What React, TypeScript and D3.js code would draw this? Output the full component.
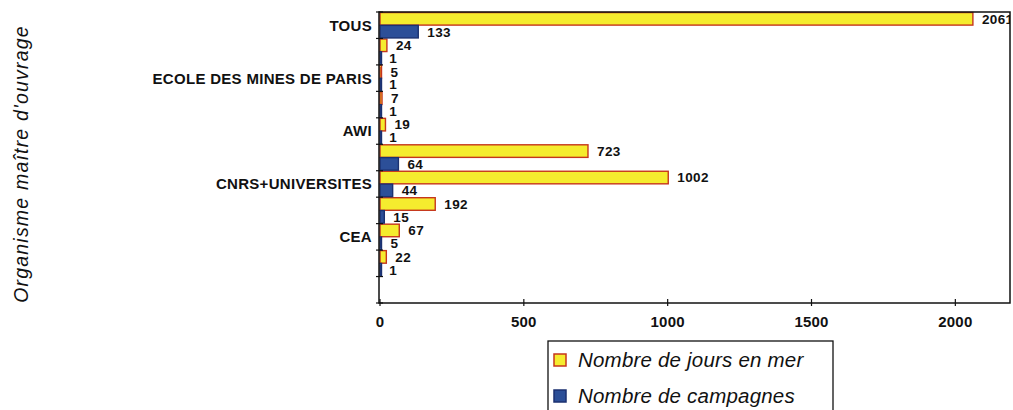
import React, { useEffect, useRef } from 'react';
import * as d3 from 'd3';

// categories from top to bottom (only every other one is labelled in the source)
const categories = ['TOUS', '', 'ECOLE DES MINES DE PARIS', '', 'AWI', '', 'CNRS+UNIVERSITES', '', 'CEA', '', ''];
const joursEnMer = [2061, 24, 5, 7, 19, 723, 1002, 192, 67, 22, null];
const campagnes = [133, 1, 1, 1, 1, 64, 44, 15, 5, 1, null];
const xTicks = [0, 500, 1000, 1500, 2000];
const seriesNames = ['Nombre de jours en mer', 'Nombre de campagnes'];

export default function App() {
  const ref = useRef<SVGSVGElement>(null);

  useEffect(() => {
    const width = 1013;
    const height = 410;
    const left = 380, right = 1010, top = 12, bottom = 303;

    const svg = d3.select(ref.current);
    svg.selectAll('*').remove();
    svg.attr('width', width).attr('height', height);

    const x = d3.scaleLinear().domain([0, 2190]).range([left, right]);
    const y = d3.scaleBand<number>()
      .domain(d3.range(categories.length))
      .range([top, bottom])
      .paddingInner(0.04)
      .paddingOuter(0.02);
    const sub = d3.scaleBand<number>().domain([0, 1]).range([0, y.bandwidth()]).paddingInner(0.02);

    const styles = [
      { fill: '#f5ec2e', stroke: '#c6361c' },
      { fill: '#2c4f98', stroke: '#1b3170' },
    ];

    svg.append('defs').append('clipPath').attr('id', 'plotclip')
      .append('rect').attr('x', left).attr('y', top).attr('width', right - left).attr('height', bottom - top);

    const font = '"Liberation Sans", Arial, sans-serif';

    // bars
    const series = [joursEnMer, campagnes];
    series.forEach((vals, s) => {
      const g = svg.append('g');
      vals.forEach((v, i) => {
        if (v == null) return;
        const yy = (y(i) as number) + (sub(s) as number);
        g.append('rect')
          .attr('x', x(0))
          .attr('y', yy)
          .attr('width', Math.max(x(v) - x(0), 1.5))
          .attr('height', sub.bandwidth())
          .attr('fill', styles[s].fill)
          .attr('stroke', styles[s].stroke)
          .attr('stroke-width', 1.4);
      });
    });

    // value labels
    const labels = svg.append('g').attr('clip-path', 'url(#plotclip)');
    series.forEach((vals, s) => {
      vals.forEach((v, i) => {
        if (v == null) return;
        const yy = (y(i) as number) + (sub(s) as number) + sub.bandwidth() / 2;
        labels.append('text')
          .attr('x', x(v) + 9)
          .attr('y', yy)
          .attr('dy', '0.36em')
          .attr('font-family', font)
          .attr('font-weight', 'bold')
          .attr('font-size', 13.5)
          .attr('letter-spacing', 0.4)
          .attr('fill', '#111')
          .text(v);
      });
    });

    // plot frame
    svg.append('rect')
      .attr('x', left - 1).attr('y', top)
      .attr('width', right - left + 1).attr('height', bottom - top)
      .attr('fill', 'none').attr('stroke', '#111').attr('stroke-width', 1.5);

    // y axis ticks at category boundaries
    const bounds = d3.range(categories.length + 1).map(i => top + i * (bottom - top) / categories.length);
    svg.append('g').selectAll('line').data(bounds).enter().append('line')
      .attr('x1', left - 4).attr('x2', left + 3)
      .attr('y1', d => d).attr('y2', d => d)
      .attr('stroke', '#111').attr('stroke-width', 1.2);

    svg.append('g').selectAll('text').data(categories.map((c, i) => ({ c, i })).filter(d => d.c))
      .enter().append('text')
      .attr('x', left - 8)
      .attr('y', d => (y(d.i) as number) + y.bandwidth() / 2)
      .attr('dy', '0.36em')
      .attr('text-anchor', 'end')
      .attr('font-family', font)
      .attr('font-weight', 'bold')
      .attr('font-size', 15)
      .attr('letter-spacing', 0.3)
      .attr('fill', '#111')
      .text(d => d.c);

    // x axis
    const xg = svg.append('g');
    xTicks.forEach(t => {
      xg.append('line')
        .attr('x1', x(t)).attr('x2', x(t))
        .attr('y1', bottom - 4).attr('y2', bottom + 3)
        .attr('stroke', '#111').attr('stroke-width', 1.2);
      xg.append('text')
        .attr('x', x(t)).attr('y', bottom + 24)
        .attr('text-anchor', 'middle')
        .attr('font-family', font)
        .attr('font-weight', 'bold')
        .attr('font-size', 15)
        .attr('letter-spacing', 0.2)
        .attr('fill', '#111')
        .text(t);
    });

    // axis title
    svg.append('text')
      .attr('transform', 'translate(28,164) rotate(-90)')
      .attr('text-anchor', 'middle')
      .attr('font-family', font)
      .attr('font-style', 'italic')
      .attr('font-size', 19.5)
      .attr('letter-spacing', 1.2)
      .attr('fill', '#111')
      .text("Organisme maître d'ouvrage");

    // legend
    const lg = svg.append('g');
    lg.append('rect')
      .attr('x', 548).attr('y', 341).attr('width', 285).attr('height', 80)
      .attr('fill', '#fff').attr('stroke', '#111').attr('stroke-width', 1.3);
    seriesNames.forEach((n, s) => {
      const cy = 360 + s * 36;
      lg.append('rect')
        .attr('x', 554).attr('y', cy - 6).attr('width', 12).attr('height', 12)
        .attr('fill', styles[s].fill).attr('stroke', styles[s].stroke).attr('stroke-width', 1.5);
      lg.append('text')
        .attr('x', 578).attr('y', cy)
        .attr('dy', '0.36em')
        .attr('font-family', font)
        .attr('font-style', 'italic')
        .attr('font-size', 20.5)
        .attr('letter-spacing', 0.2)
        .attr('fill', '#111')
        .text(n);
    });
  }, []);

  return <svg ref={ref} style={{ position: 'absolute', left: 0, top: 0, display: 'block' }} />;
}
